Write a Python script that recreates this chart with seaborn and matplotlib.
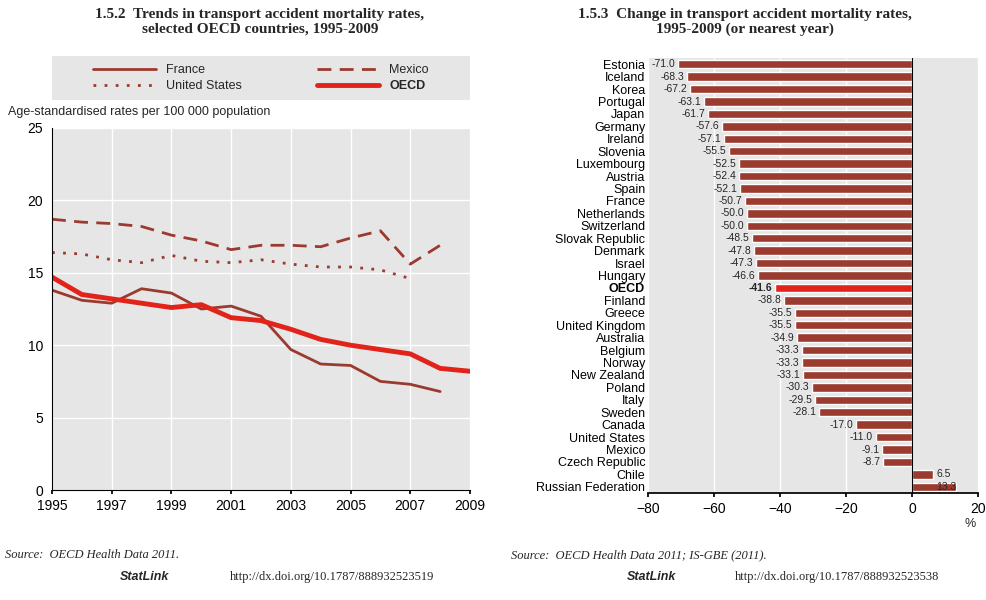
import matplotlib
matplotlib.use("Agg")
import matplotlib.pyplot as plt
import seaborn as sns
import pandas as pd
from matplotlib.lines import Line2D

sns.set_theme(style="white")
plt.rcParams['font.family'] = ['Liberation Sans', 'DejaVu Sans']

years = list(range(1995, 2010))
france = [13.8, 13.1, 12.9, 13.9, 13.6, 12.5, 12.7, 12.0, 9.7, 8.7, 8.6, 7.5, 7.3, 6.8, None]
mexico = [18.7, 18.5, 18.4, 18.2, 17.6, 17.2, 16.6, 16.9, 16.9, 16.8, 17.4, 17.9, 15.6, 16.9, None]
usa = [16.4, 16.3, 15.9, 15.7, 16.2, 15.8, 15.7, 15.9, 15.6, 15.4, 15.4, 15.2, 14.6, None, None]
oecd = [14.7, 13.5, 13.2, 12.9, 12.6, 12.8, 11.9, 11.7, 11.1, 10.4, 10.0, 9.7, 9.4, 8.4, 8.2]

countries = ["Estonia", "Iceland", "Korea", "Portugal", "Japan", "Germany", "Ireland", "Slovenia",
             "Luxembourg", "Austria", "Spain", "France", "Netherlands", "Switzerland", "Slovak Republic",
             "Denmark", "Israel", "Hungary", "OECD", "Finland", "Greece", "United Kingdom", "Australia",
             "Belgium", "Norway", "New Zealand", "Poland", "Italy", "Sweden", "Canada", "United States",
             "Mexico", "Czech Republic", "Chile", "Russian Federation"]
changes = [-71.0, -68.3, -67.2, -63.1, -61.7, -57.6, -57.1, -55.5, -52.5, -52.4, -52.1, -50.7, -50.0,
           -50.0, -48.5, -47.8, -47.3, -46.6, -41.6, -38.8, -35.5, -35.5, -34.9, -33.3, -33.3, -33.1,
           -30.3, -29.5, -28.1, -17.0, -11.0, -9.1, -8.7, 6.5, 13.3]

brown = "#9b3a2e"
red = "#e2231a"
bg = "#e6e6e6"

fig = plt.figure(figsize=(9.86, 6.0), dpi=100)

# Left chart
ax1 = fig.add_axes([52/986, 1-490/600, 418/986, 362/600])
ax1.set_facecolor(bg)
df = pd.DataFrame({"year": years, "France": france, "Mexico": mexico, "United States": usa, "OECD": oecd})
sns.lineplot(data=df, x="year", y="France", ax=ax1, color=brown, lw=2)
sns.lineplot(data=df, x="year", y="Mexico", ax=ax1, color=brown, lw=2, linestyle=(0, (5, 3)))
sns.lineplot(data=df, x="year", y="United States", ax=ax1, color=brown, lw=2, linestyle=(0, (1, 3)))
sns.lineplot(data=df, x="year", y="OECD", ax=ax1, color=red, lw=3.5)
ax1.set_xlim(1995, 2009)
ax1.set_ylim(0, 25)
ax1.set_xticks(range(1995, 2010, 2))
ax1.set_yticks(range(0, 26, 5))
ax1.grid(True, color="white", lw=1)
ax1.set_axisbelow(True)
for s in ["top", "right"]:
    ax1.spines[s].set_visible(False)
for s in ["left", "bottom"]:
    ax1.spines[s].set_color("black")
    ax1.spines[s].set_linewidth(0.8)
ax1.tick_params(axis="both", labelsize=10, length=3, direction="out", colors="black", bottom=True, left=False)
ax1.set_xlabel("")
ax1.set_ylabel("")
fig.text(8/986, 1-112/600, "Age-standardised rates per 100 000 population", fontsize=9, va="center")

# legend box
lax = fig.add_axes([52/986, 1-100/600, 418/986, 44/600])
lax.set_facecolor(bg)
lax.set_xticks([]); lax.set_yticks([])
for s in lax.spines.values():
    s.set_visible(False)
handles = [Line2D([], [], color=brown, lw=2),
           Line2D([], [], color=brown, lw=2, linestyle=(0, (1, 3))),
           Line2D([], [], color=brown, lw=2, linestyle=(0, (5, 3))),
           Line2D([], [], color=red, lw=3.5)]
labels = ["France", "United States", "Mexico", "OECD"]
leg = lax.legend(handles, labels, ncol=2, loc="center", frameon=False, fontsize=9, handlelength=5,
                 columnspacing=6, borderpad=0.2, labelspacing=0.3)
for t in leg.get_texts():
    if t.get_text() == "OECD":
        t.set_fontweight("bold")

fig.text(260/986, 1-22/600, "1.5.2  Trends in transport accident mortality rates,\nselected OECD countries, 1995-2009",
         ha="center", va="center", fontsize=11, fontweight="bold", family=["Liberation Serif"], linespacing=1.2)

# Right chart
ax2 = fig.add_axes([648/986, 1-493/600, 330/986, 435/600])
ax2.set_facecolor(bg)
cdf = pd.DataFrame({"country": countries, "change": changes})
palette = [red if c == "OECD" else brown for c in countries]
sns.barplot(data=cdf, y="country", x="change", hue="country", palette=palette, legend=False,
            ax=ax2, width=0.68, orient="h", saturation=1)
ax2.set_xlim(-80, 20)
ax2.set_xticks(range(-80, 21, 20))
ax2.grid(True, axis="x", color="white", lw=1)
ax2.set_axisbelow(True)
ax2.axvline(0, color="black", lw=0.8)
for s in ax2.spines.values():
    s.set_visible(False)
ax2.spines["bottom"].set_visible(True)
ax2.spines["bottom"].set_color("black")
ax2.tick_params(axis="x", labelsize=10, length=3, bottom=True, colors="black")
ax2.tick_params(axis="y", labelsize=9, length=0, pad=2, colors="black")
ax2.set_xlabel(""); ax2.set_ylabel("")
for lbl in ax2.get_yticklabels():
    if lbl.get_text() == "OECD":
        lbl.set_fontweight("bold")
for i, v in enumerate(changes):
    fw = "bold" if countries[i] == "OECD" else "normal"
    if v < 0:
        ax2.text(v - 0.8, i, f"{v:.1f}", ha="right", va="center", fontsize=7.5, fontweight=fw)
    elif v < 10:
        ax2.text(v + 0.8, i, f"{v:.1f}", ha="left", va="center", fontsize=7.5)
    else:
        ax2.text(v + 0.3, i, f"{v:.1f}", ha="right", va="center", fontsize=7.5)
fig.text(970/986, 1-527/600, "%", fontsize=9, ha="center")

fig.text(745/986, 1-22/600, "1.5.3  Change in transport accident mortality rates,\n1995-2009 (or nearest year)",
         ha="center", va="center", fontsize=11, fontweight="bold", family=["Liberation Serif"], linespacing=1.2)

# sources
fig.text(5/986, 1-555/600, "Source:  OECD Health Data 2011.", fontsize=9, family=["Liberation Serif"], style="italic", va="center")
fig.text(120/986, 1-577/600, "StatLink", fontsize=9, style="italic", fontweight="bold", va="center")
fig.text(230/986, 1-577/600, "http://dx.doi.org/10.1787/888932523519", fontsize=9, family=["Liberation Serif"], va="center")
fig.text(511/986, 1-555/600, "Source:  OECD Health Data 2011; IS-GBE (2011).", fontsize=9, family=["Liberation Serif"], style="italic", va="center")
fig.text(627/986, 1-577/600, "StatLink", fontsize=9, style="italic", fontweight="bold", va="center")
fig.text(735/986, 1-577/600, "http://dx.doi.org/10.1787/888932523538", fontsize=9, family=["Liberation Serif"], va="center")

fig.savefig("out.png", dpi=100, facecolor="white")
